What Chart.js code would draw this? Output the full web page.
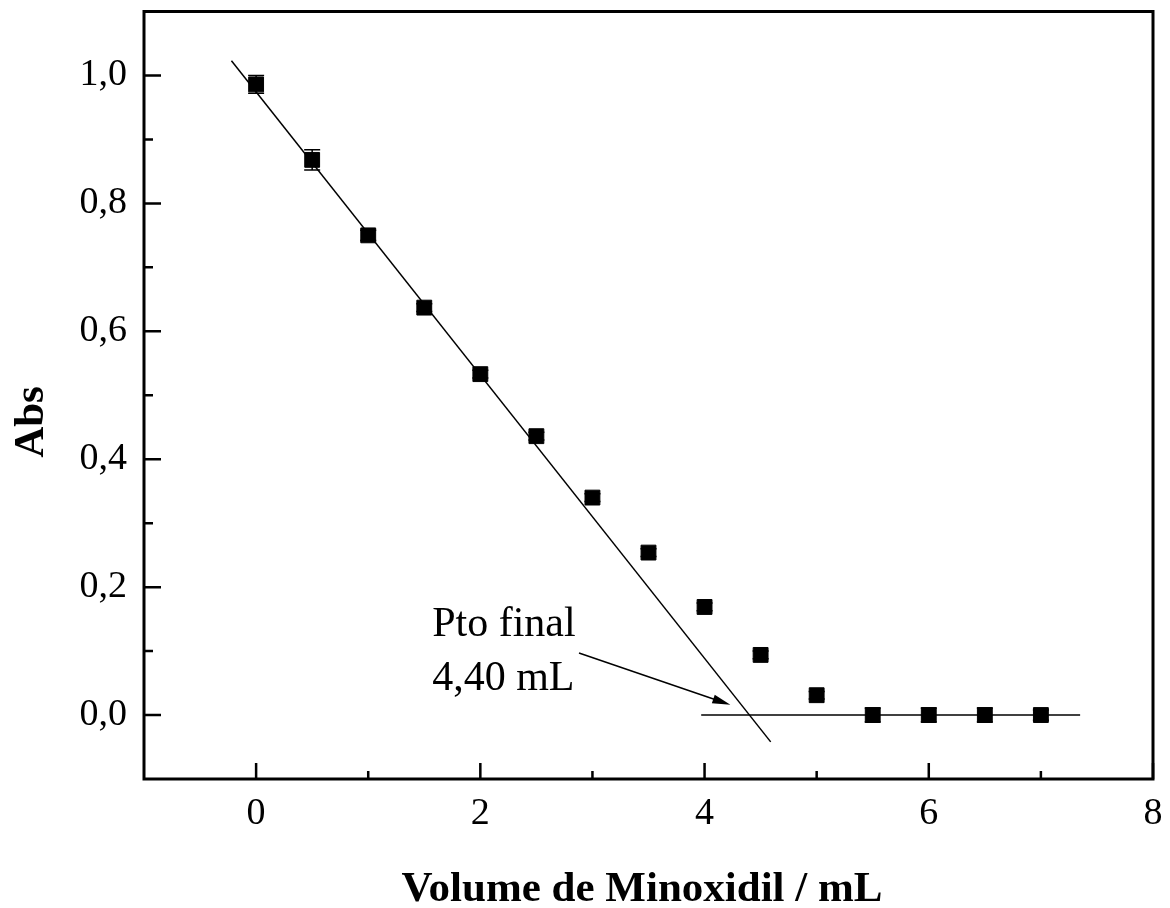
<!DOCTYPE html>
<html>
<head>
<meta charset="utf-8">
<script src="https://cdn.jsdelivr.net/npm/chart.js@4/dist/chart.umd.min.js"></script>
<style>
  body { margin: 0; background: #fff; }
  #wrap { width: 1170px; height: 908px; }
</style>
</head>
<body>
<div id="wrap"><canvas id="absChart" width="1170" height="908"></canvas></div>
<script>
// titration data: volume added (mL) vs absorbance
const volumes = [0, 0.5, 1, 1.5, 2, 2.5, 3, 3.5, 4, 4.5, 5, 5.5, 6, 6.5, 7];
const absValues = [0.986, 0.868, 0.750, 0.637, 0.533, 0.436, 0.340, 0.254, 0.169, 0.094, 0.031, 0.0, 0.0, 0.0, 0.0];
const absErrors = [0.014, 0.016, 0.008, 0.006, 0.006, 0.006, 0.006, 0.006, 0.006, 0.006, 0.006, 0.011, 0.011, 0.011, 0.008];

// linear fit of the descending branch and the baseline after the end point
const fitLineX = [-0.22, 4.59];
const fitLineY = [1.023, -0.042];
const baseLineX = [3.97, 7.35];
const baseLineY = [0, 0];

// ticks
const xTicks = [0, 2, 4, 6, 8];
const xMinorTicks = [1, 3, 5, 7];
const yTicks = [0, 0.2, 0.4, 0.6, 0.8, 1.0];
const yMinorTicks = [0.1, 0.3, 0.5, 0.7, 0.9];

// end point annotation
const noteLines = ["Pto final", "4,40 mL"];
const noteX = 1.57;
const noteY = [0.123, 0.039];
const arrowFrom = { x: 2.88, y: 0.097 };
const arrowTo = { x: 4.23, y: 0.016 };

const FONT = "'Liberation Serif', 'Times New Roman', serif";

const framePlugin = {
  id: "frame",
  beforeDatasetsDraw(chart) {
    const { ctx, scales: { x, y } } = chart;
    // error bars
    ctx.save();
    ctx.strokeStyle = "#000";
    ctx.lineWidth = 1.5;
    volumes.forEach((v, i) => {
      const px = x.getPixelForValue(v);
      const top = y.getPixelForValue(absValues[i] + absErrors[i]);
      const bot = y.getPixelForValue(absValues[i] - absErrors[i]);
      ctx.beginPath();
      ctx.moveTo(px, top); ctx.lineTo(px, bot);
      ctx.moveTo(px - 8, top); ctx.lineTo(px + 8, top);
      ctx.moveTo(px - 8, bot); ctx.lineTo(px + 8, bot);
      ctx.stroke();
    });
    ctx.restore();
  },
  afterDraw(chart) {
    const { ctx, chartArea: a, scales: { x, y } } = chart;
    ctx.save();
    ctx.strokeStyle = "#000";
    ctx.fillStyle = "#000";

    // inward ticks on left and bottom
    ctx.lineWidth = 2.5;
    ctx.beginPath();
    xTicks.forEach(v => { const p = x.getPixelForValue(v); ctx.moveTo(p, a.bottom); ctx.lineTo(p, a.bottom - 16); });
    xMinorTicks.forEach(v => { const p = x.getPixelForValue(v); ctx.moveTo(p, a.bottom); ctx.lineTo(p, a.bottom - 8); });
    yTicks.forEach(v => { const p = y.getPixelForValue(v); ctx.moveTo(a.left, p); ctx.lineTo(a.left + 17, p); });
    yMinorTicks.forEach(v => { const p = y.getPixelForValue(v); ctx.moveTo(a.left, p); ctx.lineTo(a.left + 9, p); });
    ctx.stroke();

    // frame
    ctx.lineWidth = 3;
    ctx.strokeRect(a.left, a.top, a.right - a.left, a.bottom - a.top);

    // arrow to the end point
    const x0 = x.getPixelForValue(arrowFrom.x), y0 = y.getPixelForValue(arrowFrom.y);
    const x1 = x.getPixelForValue(arrowTo.x), y1 = y.getPixelForValue(arrowTo.y);
    const ang = Math.atan2(y1 - y0, x1 - x0);
    ctx.lineWidth = 1.5;
    ctx.beginPath();
    ctx.moveTo(x0, y0);
    ctx.lineTo(x1 - 14 * Math.cos(ang), y1 - 14 * Math.sin(ang));
    ctx.stroke();
    ctx.beginPath();
    ctx.moveTo(x1, y1);
    ctx.lineTo(x1 - 18 * Math.cos(ang) + 4.5 * Math.sin(ang), y1 - 18 * Math.sin(ang) - 4.5 * Math.cos(ang));
    ctx.lineTo(x1 - 18 * Math.cos(ang) - 4.5 * Math.sin(ang), y1 - 18 * Math.sin(ang) + 4.5 * Math.cos(ang));
    ctx.closePath();
    ctx.fill();

    // annotation text
    ctx.font = "42px " + FONT;
    ctx.textAlign = "left";
    ctx.textBaseline = "alphabetic";
    noteLines.forEach((t, i) => ctx.fillText(t, x.getPixelForValue(noteX), y.getPixelForValue(noteY[i])));

    // axis titles
    ctx.font = "bold 43px " + FONT;
    ctx.textAlign = "center";
    ctx.fillText("Volume de Minoxidil / mL", 642, 901);
    ctx.translate(43, 422);
    ctx.rotate(-Math.PI / 2);
    ctx.fillText("Abs", 0, 0);
    ctx.restore();
  }
};

new Chart(document.getElementById("absChart"), {
  type: "scatter",
  data: {
    datasets: [
      {
        label: "Abs",
        data: volumes.map((v, i) => ({ x: v, y: absValues[i] })),
        pointStyle: "rect",
        pointRadius: 10.5,
        pointBackgroundColor: "#000",
        pointBorderColor: "#000",
        pointBorderWidth: 1,
        order: 0,
      },
      {
        type: "line",
        label: "fit",
        data: fitLineX.map((v, i) => ({ x: v, y: fitLineY[i] })),
        borderColor: "#000",
        borderWidth: 1.5,
        pointRadius: 0,
        fill: false,
        order: 1,
      },
      {
        type: "line",
        label: "baseline",
        data: baseLineX.map((v, i) => ({ x: v, y: baseLineY[i] })),
        borderColor: "#000",
        borderWidth: 1.5,
        pointRadius: 0,
        fill: false,
        order: 1,
      },
    ],
  },
  options: {
    responsive: false,
    animation: false,
    layout: { padding: { top: 10, right: 17, left: 0, bottom: 0 } },
    scales: {
      x: {
        type: "linear",
        min: -1,
        max: 8,
        grid: { display: false, drawTicks: false },
        border: { display: false },
        afterBuildTicks: (s) => { s.ticks = xTicks.map(v => ({ value: v })); },
        afterFit: (s) => { s.height = 129; s.paddingLeft = 0; s.paddingRight = 0; },
        ticks: {
          color: "#000",
          padding: 12,
          font: { family: FONT, size: 38 },
          callback: (v) => String(v),
        },
      },
      y: {
        type: "linear",
        min: -0.1,
        max: 1.1,
        grid: { display: false, drawTicks: false },
        border: { display: false },
        afterBuildTicks: (s) => { s.ticks = yTicks.map(v => ({ value: v })); },
        afterFit: (s) => { s.width = 144; s.paddingTop = 0; s.paddingBottom = 0; },
        ticks: {
          color: "#000",
          padding: 17,
          font: { family: FONT, size: 38 },
          callback: (v) => v.toFixed(1).replace(".", ","),
        },
      },
    },
    plugins: {
      legend: { display: false },
      tooltip: { enabled: false },
    },
  },
  plugins: [framePlugin],
});
</script>
</body>
</html>
